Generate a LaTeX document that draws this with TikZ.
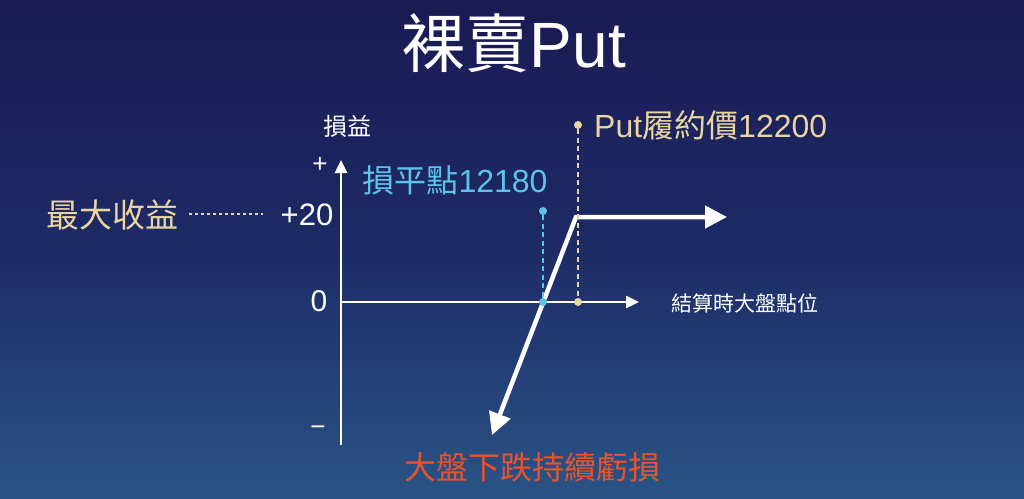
\documentclass[tikz,border=0pt]{standalone}
\usepackage{fontspec}
\setmainfont{Liberation Sans}
\newfontfamily\cjk{Noto Sans CJK TC}
\usetikzlibrary{arrows.meta}
\definecolor{bgtop}{HTML}{1B1A53}
\definecolor{bgmid}{HTML}{1D2B66}
\definecolor{bgbot}{HTML}{2A5486}
\definecolor{beige}{HTML}{E9D5A0}
\definecolor{cyanl}{HTML}{5EC3EC}
\definecolor{redo}{HTML}{E8532C}
\tikzset{
  lbl/.style={inner sep=0pt, anchor=center, text=white},
  axis/.style={draw=white, line width=2.5pt, -{Triangle[length=13pt,width=12pt]}},
  payoff/.style={draw=white, line width=4.5pt, line join=miter,
    {Triangle[length=22pt,width=22pt]}-{Triangle[length=22pt,width=22pt]}},
  guide/.style={line width=2pt, dash pattern=on 5pt off 3.5pt},
  dotm/.style={circle, inner sep=0pt, minimum size=8pt},
}
\newcommand{\fs}[1]{\fontsize{#1}{#1}\selectfont}
\begin{document}
\begin{tikzpicture}[x=1pt,y=-1pt]
\shade[top color=bgtop, bottom color=bgbot, middle color=bgmid] (0,0) rectangle (1024,498);
\useasboundingbox (0,0) rectangle (1024,498);

% title
\node[lbl] (title) at (514,43) {\fs{64}{\cjk 裸賣}Put};

% axes
\coordinate (O) at (341,302);
\coordinate (ybot) at (341,445);
\coordinate (ytop) at (341,160);
\coordinate (xend) at (639,302);
\draw[axis] (ybot) -- (ytop);
\draw[axis] (O) -- (xend);

\node[lbl] (plus) at (320,165) {\fs{26}+};
\node[lbl] (minus) at (318,431) {\fs{26}−};
\node[lbl] (yl) at (347,126) {\fs{24}\cjk 損益};
\node[lbl] (zero) at (319,301) {\fs{30}0};
\node[lbl] (p20) at (307,215) {\fs{31}+20};
\node[lbl, text=beige] (maxg) at (112,215) {\fs{33}\cjk 最大收益};
\coordinate (md1) at (189,214);
\coordinate (md2) at (263,214);
\draw[beige, line width=1.6pt, dash pattern=on 3pt off 3pt] (md1) -- (md2);
\node[lbl] (xl) at (745,303) {\fs{21}\cjk 結算時大盤點位};

% payoff
\coordinate (pend) at (727,217);
\coordinate (knee) at (576,217);
\coordinate (ptip) at (492,435);
\draw[payoff] (pend) -- (knee) -- (ptip);

% breakeven
\node[lbl, text=cyanl] (be) at (455,180) {\fs{32}{\cjk 損平點}12180};
\node[dotm, fill=cyanl] (bed1) at (543,211) {};
\node[dotm, fill=cyanl] (bed2) at (543,302) {};
\draw[cyanl, guide] (bed1) -- (bed2);

% strike
\node[lbl, text=beige, anchor=west] (st) at (594,125) {\fs{32}Put{\cjk 履約價}12200};
\node[dotm, fill=beige] (std1) at (578,125) {};
\node[dotm, fill=beige] (std2) at (578,302) {};
\draw[beige, guide] (std1) -- (std2);

\node[lbl, text=redo] (loss) at (532,467) {\fs{32}\cjk 大盤下跌持續虧損};
\end{tikzpicture}
\end{document}
